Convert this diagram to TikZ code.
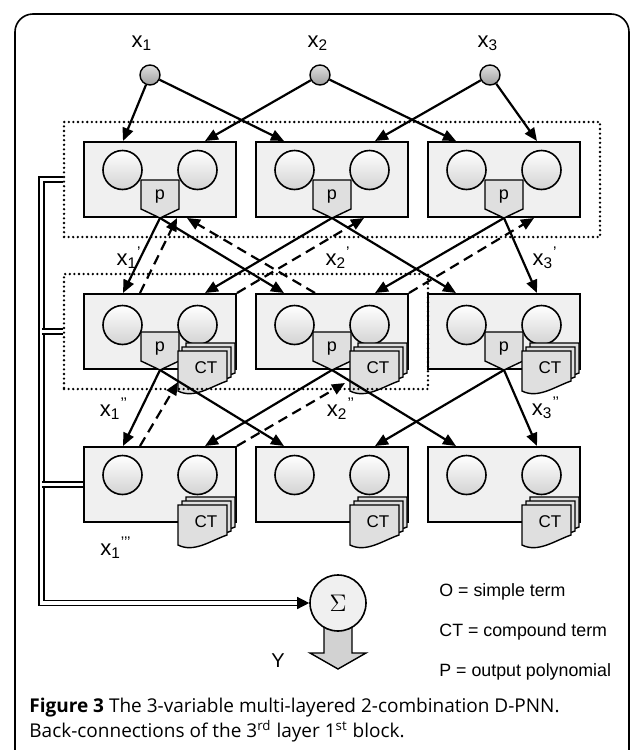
\documentclass[tikz,border=0pt]{standalone}
\usepackage{fontspec}
\setmainfont{Liberation Sans}
\newfontfamily\capfont{Open Sans}
\usetikzlibrary{arrows.meta, positioning, calc, fit, backgrounds}

\begin{document}
\begin{tikzpicture}[
    x=0.5pt, y=-0.5pt,
    block/.style={rectangle, draw, line width=1pt, fill=gray!12, minimum width=76pt, minimum height=37.5pt, inner sep=0pt},
    term/.style={circle, draw, line width=0.8pt, top color=white, bottom color=gray!35, minimum size=19.5pt, inner sep=0pt},
    inp/.style={circle, draw, line width=0.7pt, top color=gray!25, bottom color=gray!75, minimum size=10pt, inner sep=0pt},
    lbl/.style={font=\fontsize{11}{13}\selectfont, inner sep=0pt},
    legend/.style={anchor=west, inner sep=0pt, font=\fontsize{8.9}{10}\selectfont},
    arrow/.style={-{Triangle[length=6.5pt, width=5.5pt]}, line width=1.1pt},
    dasharrow/.style={-{Triangle[length=6.5pt, width=5.5pt]}, line width=1.1pt, dash pattern=on 5pt off 3pt},
    dotbox/.style={draw, line width=1.3pt, line cap=round, dash pattern=on 0pt off 2.3pt, inner sep=9.5pt},
    bus/.style={double, double distance=1.8pt, line width=0.7pt},
    pout/.pic={
        \draw[line width=0.7pt, fill=gray!25] (-19,-38) -- (19,-38) -- (19,-9) -- (0,0) -- (-19,-9) -- cycle;
        \node[font=\fontsize{9}{10}\selectfont] at (0,-21) {p};},
    ctstack/.pic={
        \draw[line width=0.7pt, fill=gray!25] (8,-8) -- (8,32) .. controls (24,40) and (40,28) .. (57,22) -- (57,-8) -- cycle;
        \draw[line width=0.7pt, fill=gray!25] (4,-4) -- (4,36) .. controls (20,44) and (36,32) .. (53,26) -- (53,-4) -- cycle;
        \draw[line width=0.7pt, fill=gray!25] (0,0) -- (0,40) .. controls (16,48) and (32,36) .. (49,30) -- (49,0) -- cycle;
        \node[font=\fontsize{8.5}{10}\selectfont] at (28,17) {CT};}
]
\clip (0,0) rectangle (634,750);
\draw[line width=0.8pt, rounded corners=9pt] (15,14) rectangle (629,800);

% inputs
\node[inp] (in1) at (150,75) {};
\node[inp] (in2) at (320,75) {};
\node[inp] (in3) at (490,75) {};
\node[lbl] (lx1) at (142,43) {x\textsubscript{1}};
\node[lbl] (lx2) at (318,43) {x\textsubscript{2}};
\node[lbl] (lx3) at (488,43) {x\textsubscript{3}};

% layers
\node[block] (b11) at (160,179.5) {};
\node[block, right=9pt of b11] (b12) {};
\node[block, right=9pt of b12] (b13) {};
\node[block, below=37.5pt of b11] (b21) {};
\node[block, right=9pt of b21] (b22) {};
\node[block, right=9pt of b22] (b23) {};
\node[block, below=38pt of b21] (b31) {};
\node[block, right=9pt of b31] (b32) {};
\node[block, right=9pt of b32] (b33) {};

% simple terms
\node[term] (t11a) at ($(b11.north)+(-37.5,29)$) {}; \node[term] (t11b) at ($(b11.north)+(37.5,29)$) {};
\node[term] (t12a) at ($(b12.north)+(-37.5,29)$) {}; \node[term] (t12b) at ($(b12.north)+(37.5,29)$) {};
\node[term] (t13a) at ($(b13.north)+(-37.5,29)$) {}; \node[term] (t13b) at ($(b13.north)+(37.5,29)$) {};
\node[term] (t21a) at ($(b21.north)+(-37.5,32)$) {}; \node[term] (t21b) at ($(b21.north)+(37.5,32)$) {};
\node[term] (t22a) at ($(b22.north)+(-37.5,32)$) {}; \node[term] (t22b) at ($(b22.north)+(37.5,32)$) {};
\node[term] (t23a) at ($(b23.north)+(-37.5,32)$) {}; \node[term] (t23b) at ($(b23.north)+(37.5,32)$) {};
\node[term] (t31a) at ($(b31.north)+(-37.5,29)$) {}; \node[term] (t31b) at ($(b31.north)+(37.5,29)$) {};
\node[term] (t32a) at ($(b32.north)+(-37.5,29)$) {}; \node[term] (t32b) at ($(b32.north)+(37.5,29)$) {};
\node[term] (t33a) at ($(b33.north)+(-37.5,29)$) {}; \node[term] (t33b) at ($(b33.north)+(37.5,29)$) {};

% output polynomials and compound terms
\pic at (b11.south) {pout};
\pic at (b12.south) {pout};
\pic at (b13.south) {pout};
\pic at (b21.south) {pout};
\pic at (b22.south) {pout};
\pic at (b23.south) {pout};
\pic at ($(b21.south)+(18,-19)$) {ctstack};
\pic at ($(b22.south)+(18,-19)$) {ctstack};
\pic at ($(b23.south)+(18,-19)$) {ctstack};
\pic at ($(b31.south)+(18,-18)$) {ctstack};
\pic at ($(b32.south)+(18,-18)$) {ctstack};
\pic at ($(b33.south)+(18,-18)$) {ctstack};

\node[dotbox, fit=(b11)(b13)] (blk1) {};
\node[dotbox, fit=(b21)(b22)] (blk2) {};

% forward connections
\draw[arrow] (in1) -- ($(b11.north)+(-37,0)$);
\draw[arrow] (in1) -- ($(b12.north)+(-48,0)$);
\draw[arrow] (in2) -- ($(b11.north)+(45,0)$);
\draw[arrow] (in2) -- ($(b13.north)+(-48,0)$);
\draw[arrow] (in3) -- ($(b12.north)+(43,0)$);
\draw[arrow] (in3) -- ($(b13.north)+(33,0)$);

\draw[arrow] (b11.south) -- ($(b21.north)+(-37,0)$);
\draw[arrow] (b11.south) -- ($(b22.north)+(-48,0)$);
\draw[arrow] (b12.south) -- ($(b21.north)+(45,0)$);
\draw[arrow] (b12.south) -- ($(b23.north)+(-48,0)$);
\draw[arrow] (b13.south) -- ($(b22.north)+(43,0)$);
\draw[arrow] (b13.south) -- ($(b23.north)+(33,0)$);

\draw[arrow] (b21.south) -- ($(b31.north)+(-37,0)$);
\draw[arrow] (b21.south) -- ($(b32.north)+(-48,0)$);
\draw[arrow] (b22.south) -- ($(b31.north)+(45,0)$);
\draw[arrow] (b22.south) -- ($(b33.north)+(-48,0)$);
\draw[arrow] (b23.south) -- ($(b32.north)+(43,0)$);
\draw[arrow] (b23.south) -- ($(b33.north)+(33,0)$);

% back-connections
\draw[dasharrow] ($(b21.north)+(-20,0)$) -- ($(b11.south)+(17,0)$);
\draw[dasharrow] ($(b22.north)+(-17,0)$) -- ($(b11.south)+(27,0)$);
\draw[dasharrow] (b21.north east) -- ($(b12.south)+(32,0)$);
\draw[dasharrow] (b22.north east) -- ($(b13.south)+(30,0)$);
\draw[dasharrow] ($(b31.north)+(-20,0)$) -- ($(b21.south)+(18,12)$);
\draw[dasharrow] (b31.north east) -- ($(b22.south)+(13,13)$);

\node[lbl] (lx1p) at (129,258) {x\textsubscript{1}\textsuperscript{\textquoteright}};
\node[lbl] (lx2p) at (338,258) {x\textsubscript{2}\textsuperscript{\textquoteright}};
\node[lbl] (lx3p) at (545,258) {x\textsubscript{3}\textsuperscript{\textquoteright}};
\node[lbl] (lx1pp) at (114,409) {x\textsubscript{1}\textsuperscript{\textquoteright\textquoteright}};
\node[lbl] (lx2pp) at (341,409) {x\textsubscript{2}\textsuperscript{\textquoteright\textquoteright}};
\node[lbl] (lx3pp) at (546,408) {x\textsubscript{3}\textsuperscript{\textquoteright\textquoteright}};
\node[lbl] (lx1ppp) at (116,548) {x\textsubscript{1}\textsuperscript{\textquoteright\textquoteright\textquoteright}};

% output
\node[circle, draw, line width=0.8pt, fill=gray!12, minimum size=28pt, inner sep=0pt, font=\large] (sum) at (338,603) {$\Sigma$};
\begin{scope}[on background layer]
\draw[line width=0.7pt, fill=gray!35] ($(sum)+(-14,17)$) -- ($(sum)+(-14,50)$) -- ($(sum)+(-28,50)$) -- ($(sum)+(0,66)$)
    -- ($(sum)+(28,50)$) -- ($(sum)+(14,50)$) -- ($(sum)+(14,17)$) -- cycle;
\end{scope}
\node[lbl, font=\fontsize{10}{12}\selectfont] (ylab) at (278,661) {Y};

\coordinate (busbot) at (41.5,603);
\draw[bus, -{Triangle[length=6pt, width=6pt]}] (blk1.west) -| (busbot) -- (sum);
\draw[bus] (blk2.west) -- (blk2.west -| busbot);
\draw[bus] (b31.west) -- (b31.west -| busbot);

\node[legend] (leg1) at (439,592) {O = simple term};
\node[legend] (leg2) at (439,632) {CT = compound term};
\node[legend] (leg3) at (439,672) {P = output polynomial};

\node[anchor=north west, align=left, inner sep=0pt, font={\capfont\fontsize{9.5}{12.5}\selectfont}] (cap) at (29,698)
    {\textbf{Figure 3} The 3-variable multi-layered 2-combination D-PNN.\\Back-connections of the 3\textsuperscript{rd} layer 1\textsuperscript{st} block.};
\end{tikzpicture}
\end{document}
